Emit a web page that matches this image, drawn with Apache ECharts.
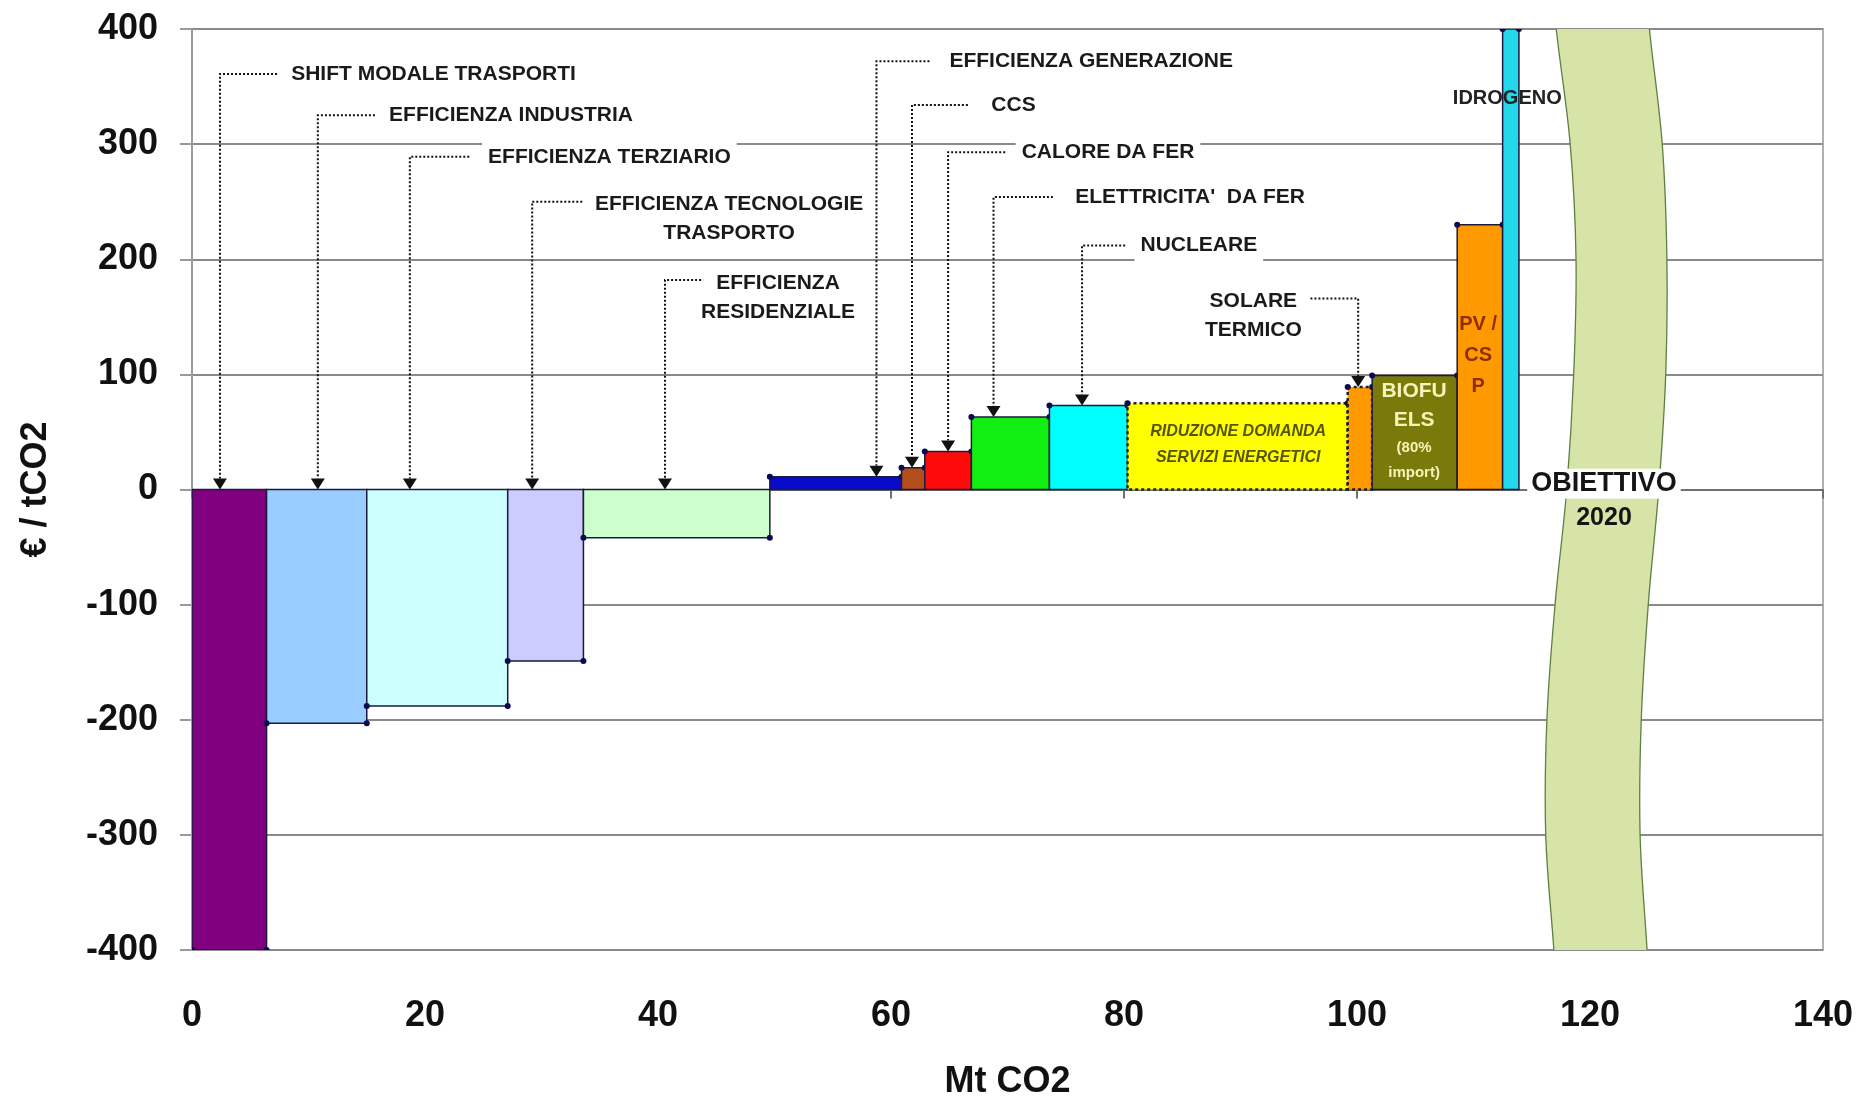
<!DOCTYPE html>
<html>
<head>
<meta charset="utf-8">
<script src="https://cdn.jsdelivr.net/npm/echarts@6/dist/echarts.min.js"></script>
<style>
html,body{margin:0;padding:0;background:#ffffff;}
#chart{width:1876px;height:1098px;}
</style>
</head>
<body>
<div id="chart"></div>
<script>
// ---------------- DATA ----------------
const measures = [
  'SHIFT MODALE TRASPORTI', 'EFFICIENZA INDUSTRIA', 'EFFICIENZA TERZIARIO',
  'EFFICIENZA TECNOLOGIE TRASPORTO', 'EFFICIENZA RESIDENZIALE', 'EFFICIENZA GENERAZIONE',
  'CCS', 'CALORE DA FER', "ELETTRICITA' DA FER", 'NUCLEARE',
  'RIDUZIONE DOMANDA SERVIZI ENERGETICI', 'SOLARE TERMICO', 'BIOFUELS (80% import)',
  'PV / CSP', 'IDROGENO'
];
// abatement potential (width, Mt CO2)
const abatementMt = [6.4, 8.6, 12.1, 6.5, 16.0, 11.3, 2.0, 4.0, 6.7, 6.7, 18.9, 2.1, 7.3, 3.9, 1.4];
// cost (€ / tCO2)
const costEurPerT = [-400, -203, -188, -149, -42, 11, 19, 33, 63, 73, 75, 89, 99, 230, 400];

const xTicks = [0, 20, 40, 60, 80, 100, 120, 140];
const yTicks = [-400, -300, -200, -100, 0, 100, 200, 300, 400];

// "OBIETTIVO 2020" band outline (Mt CO2 at given € / tCO2 levels)
const bandY     = [420, 400, 300, 200, 100, 0, -100, -200, -300, -400, -420];
const bandLeft  = [117.0, 117.1, 118.3, 118.8, 118.6, 118.0, 117.0, 116.3, 116.2, 116.9, 117.0];
const bandRight = [125.0, 125.1, 126.2, 126.6, 126.5, 125.9, 125.0, 124.4, 124.3, 124.9, 125.0];

// callout annotations
const calloutBar   = [0, 1, 2, 3, 4, 5, 6, 7, 8, 9, 11];
const calloutText  = ['SHIFT MODALE TRASPORTI', 'EFFICIENZA INDUSTRIA', 'EFFICIENZA TERZIARIO',
  'EFFICIENZA TECNOLOGIE\nTRASPORTO', 'EFFICIENZA\nRESIDENZIALE', 'EFFICIENZA GENERAZIONE',
  'CCS', 'CALORE DA FER', "ELETTRICITA'  DA FER", 'NUCLEARE', 'SOLARE\nTERMICO'];
const calloutX     = [2.4, 10.8, 18.7, 29.2, 40.6, 58.75, 61.8, 64.9, 68.8, 76.4, 100.1];
const calloutY     = [361, 325, 289, 250, 182, 372, 334, 293, 254, 212, 166];
const calloutDotTo = [7.3, 15.7, 23.8, 33.5, 43.7, 63.3, 66.6, 69.8, 73.9, 80.1, 96.0];
const calloutTextX = [8.0, 16.4, 24.9, 46.1, 50.3, 64.5, 68.1, 70.7, 75.3, 80.9, 91.1];

// labels inside / around bars
const freeText = ['IDROGENO', 'RIDUZIONE DOMANDA\nSERVIZI ENERGETICI', 'BIOFU\nELS', '(80%\nimport)', 'PV /\nCS\nP', 'OBIETTIVO', '2020'];
const freeX    = [112.9, 89.8, 104.9, 104.9, 110.4, 121.2, 121.2];
const freeY    = [340, 50, 85, 36, 143, 5, -25];

// ---------------- STYLE ----------------
const FONT = "'Liberation Sans', Arial, sans-serif";
const barColors = ['#800080', '#99CCFF', '#CCFFFF', '#CCCCFF', '#CCFFCC', '#0A0ACC',
  '#B34D1A', '#FF0A0A', '#11EE11', '#00FFFF', '#FFFF00', '#FF9900', '#7A7A0A', '#FF9900', '#22D8EA'];
const dottedBars = [10, 11];
const freeStyle = [
  {font: 'bold 20px ' + FONT, fill: '#222', lh: 24, bg: null},
  {font: 'italic bold 16px ' + FONT, fill: '#555500', lh: 26, bg: null},
  {font: 'bold 21px ' + FONT, fill: '#F4F4B8', lh: 29, bg: null},
  {font: 'bold 15px ' + FONT, fill: '#F4F4B8', lh: 25, bg: null},
  {font: 'bold 20px ' + FONT, fill: '#8E2E00', lh: 31, bg: null},
  {font: 'bold 27px ' + FONT, fill: '#151515', lh: 30, bg: '#ffffff'},
  {font: 'bold 25px ' + FONT, fill: '#151515', lh: 30, bg: null}
];

const barStart = [];
let acc = 0;
abatementMt.forEach(w => { barStart.push(acc); acc += w; });

const chart = echarts.init(document.getElementById('chart'), null, {renderer: 'canvas'});

const option = {
  backgroundColor: '#ffffff',
  animation: false,
  grid: {left: 192, right: 53, top: 29, bottom: 148, containLabel: false, outerBoundsMode: 'none',
    show: true, borderColor: '#b0b0b0', borderWidth: 2, backgroundColor: 'transparent'},
  xAxis: [
    {
      type: 'value', min: xTicks[0], max: xTicks[xTicks.length - 1], interval: 20, position: 'bottom',
      name: 'Mt CO2', nameLocation: 'middle', nameGap: 114,
      nameTextStyle: {fontSize: 36, fontWeight: 'bold', color: '#111', fontFamily: FONT},
      axisLine: {show: false, onZero: false}, axisTick: {show: false},
      axisLabel: {fontSize: 36, fontWeight: 'bold', color: '#111', fontFamily: FONT, margin: 48},
      splitLine: {show: false}
    },
    {
      type: 'value', min: xTicks[0], max: xTicks[xTicks.length - 1], interval: 20, position: 'bottom',
      axisLine: {show: true, onZero: true, onZeroAxisIndex: 0, lineStyle: {color: '#707070', width: 2}},
      axisTick: {show: true, length: 9, lineStyle: {color: '#707070', width: 2}},
      axisLabel: {show: false}, splitLine: {show: false}
    }
  ],
  yAxis: {
    type: 'value', min: yTicks[0], max: yTicks[yTicks.length - 1], interval: 100,
    name: '€ / tCO2', nameLocation: 'middle', nameGap: 138,
    nameTextStyle: {fontSize: 36, fontWeight: 'bold', color: '#111', fontFamily: FONT},
    axisLine: {show: true, onZero: false, lineStyle: {color: '#9a9a9a', width: 2}},
    axisTick: {show: true, length: 12, lineStyle: {color: '#9a9a9a', width: 2}},
    axisLabel: {fontSize: 36, fontWeight: 'bold', color: '#111', fontFamily: FONT, margin: 34},
    splitLine: {show: true, lineStyle: {color: '#8a8a8a', width: 2}}
  },
  series: [
    // target band
    {
      type: 'custom', z: 1, clip: true, xAxisIndex: 0, yAxisIndex: 0,
      data: [[121, 0]],
      renderItem(params, api) {
        const pts = [];
        bandY.forEach((y, k) => pts.push(api.coord([bandLeft[k], y])));
        for (let k = bandY.length - 1; k >= 0; k--) pts.push(api.coord([bandRight[k], bandY[k]]));
        return {type: 'polygon', shape: {points: pts, smooth: 0.35}, style: {fill: '#D7E4A8', stroke: '#5E7F45', lineWidth: 1.3}};
      }
    },
    // bars
    {
      type: 'custom', z: 2, clip: true, xAxisIndex: 0, yAxisIndex: 0,
      data: measures.map((m, i) => [barStart[i], barStart[i] + abatementMt[i], costEurPerT[i], i]),
      encode: {x: [0, 1], y: 2},
      renderItem(params, api) {
        const x0 = api.value(0), x1 = api.value(1), v = api.value(2), i = api.value(3);
        const p0 = api.coord([x0, Math.max(v, 0)]);
        const p1 = api.coord([x1, Math.min(v, 0)]);
        const dotted = dottedBars.indexOf(i) >= 0;
        const children = [{
          type: 'rect',
          shape: {x: p0[0], y: p0[1], width: p1[0] - p0[0], height: p1[1] - p0[1]},
          style: {fill: barColors[i], stroke: dotted ? '#222' : '#1a1a40', lineWidth: dotted ? 2.5 : 1.5, lineDash: dotted ? [3, 3] : null}
        }];
        const a = api.coord([x0, v]), b = api.coord([x1, v]);
        children.push({type: 'circle', shape: {cx: a[0], cy: a[1], r: 3}, style: {fill: '#0a0a50'}});
        children.push({type: 'circle', shape: {cx: b[0], cy: b[1], r: 3}, style: {fill: '#0a0a50'}});
        return {type: 'group', children};
      }
    },
    // callouts
    {
      type: 'custom', z: 4, clip: false, xAxisIndex: 0, yAxisIndex: 0,
      data: calloutText.map((t, k) => [calloutX[k], calloutY[k], k]),
      renderItem(params, api) {
        const k = api.value(2);
        const barIdx = calloutBar[k];
        const tipVal = Math.max(costEurPerT[barIdx], 0);
        const top = api.coord([calloutX[k], calloutY[k]]);
        const tip = api.coord([calloutX[k], tipVal]);
        const end = api.coord([calloutDotTo[k], calloutY[k]]);
        const tx = api.coord([calloutTextX[k], calloutY[k]]);
        const multi = calloutText[k].indexOf('\n') >= 0;
        const lh = 29;
        const lineStyle = {stroke: '#111', lineWidth: 2, lineDash: [2, 2], fill: null};
        const aw = 7, ah = 11;
        return {
          type: 'group',
          children: [
            {
              type: 'text', z2: 1,
              style: {
                text: calloutText[k], x: tx[0], y: multi ? top[1] - lh / 2 : top[1],
                font: 'bold 21px ' + FONT, fill: '#1a1a1a',
                align: multi ? 'center' : 'left', textAlign: multi ? 'center' : 'left',
                verticalAlign: multi ? 'top' : 'middle', textVerticalAlign: multi ? 'top' : 'middle',
                lineHeight: lh, backgroundColor: '#ffffff', padding: [3, 6, 3, 6]
              }
            },
            {type: 'polyline', z2: 2, shape: {points: [[end[0], top[1]], [top[0], top[1]], [top[0], tip[1] - ah]]}, style: lineStyle},
            {type: 'polygon', z2: 3, shape: {points: [[tip[0] - aw, tip[1] - ah], [tip[0] + aw, tip[1] - ah], [tip[0], tip[1]]]}, style: {fill: '#111'}}
          ]
        };
      }
    },
    // free labels
    {
      type: 'custom', z: 5, clip: false, xAxisIndex: 0, yAxisIndex: 0,
      data: freeText.map((t, k) => [freeX[k], freeY[k], k]),
      renderItem(params, api) {
        const k = api.value(2);
        const p = api.coord([freeX[k], freeY[k]]);
        const s = freeStyle[k];
        return {
          type: 'text',
          style: {
            text: freeText[k], x: p[0], y: p[1] - s.lh / 2,
            font: s.font, fill: s.fill, align: 'center', textAlign: 'center',
            verticalAlign: 'top', textVerticalAlign: 'top', lineHeight: s.lh,
            backgroundColor: s.bg || 'transparent', padding: s.bg ? [0, 4, 0, 4] : 0
          }
        };
      }
    }
  ]
};
chart.setOption(option);
</script>
</body>
</html>
